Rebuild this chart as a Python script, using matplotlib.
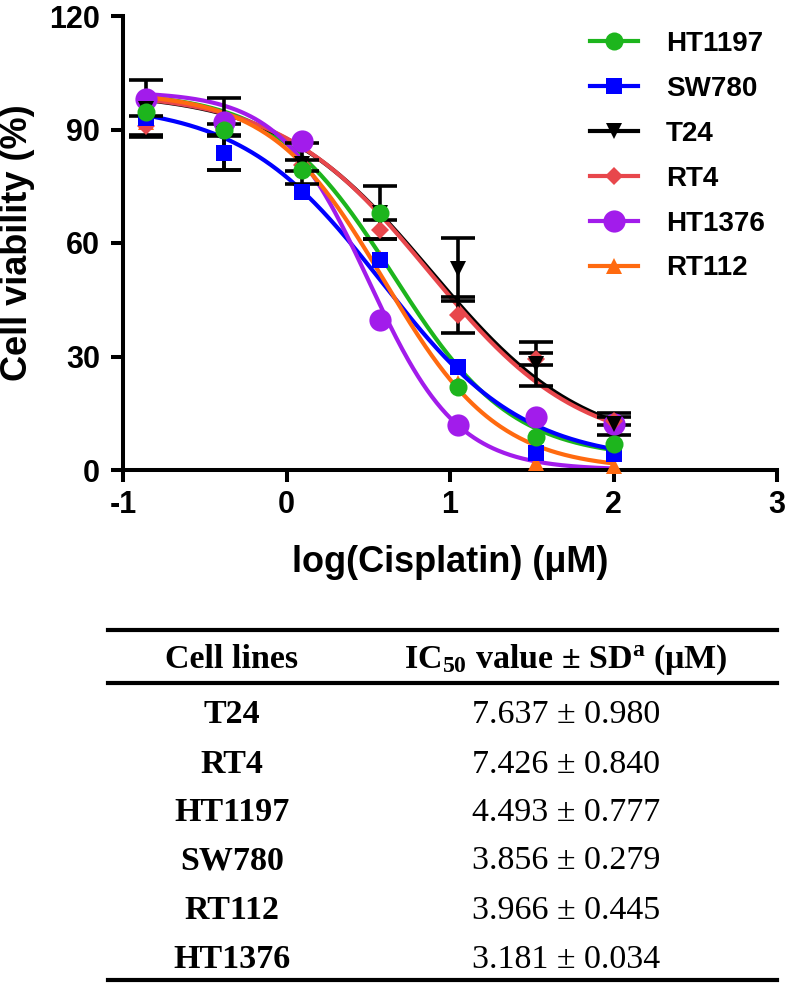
import numpy as np
import matplotlib
matplotlib.use("Agg")
import matplotlib.pyplot as plt
from matplotlib.lines import Line2D

# ---------------- data ----------------
log_conc = [-0.862, -0.385, 0.092, 0.569, 1.046, 1.523, 2.0]

series_names = ["HT1197", "SW780", "T24", "RT4", "HT1376", "RT112"]

viab_HT1197 = [94.7, 90.0, 79.3, 68.0, 21.9, 8.6, 7.0]
viab_SW780 = [93.0, 83.8, 73.6, 55.5, 27.3, 4.4, 4.2]
viab_T24 = [95.5, 88.7, 81.0, 68.0, 53.0, 28.0, 12.2]
viab_RT4 = [91.0, 90.0, 80.5, 63.5, 41.0, 29.3, 13.0]
viab_HT1376 = [98.0, 92.0, 87.0, 39.6, 11.9, 14.1, 12.2]
viab_RT112 = [92.0, 91.0, 81.0, 56.0, 23.0, 1.8, 1.0]

sd_HT1197 = [0, 0, 0, 0, 0, 0, 0]
sd_SW780 = [0, 4.5, 0, 0, 0, 0, 0]
sd_T24 = [7.5, 9.5, 5.5, 7.0, 8.2, 5.8, 2.9]
sd_RT4 = [2.5, 1.5, 1.5, 2.5, 4.8, 1.5, 1.0]
sd_HT1376 = [0, 0, 0, 0, 0, 0, 0]
sd_RT112 = [0, 0, 0, 0, 0, 0, 0]

# 4PL fit parameters (top, bottom, hill); logIC50 from the table values
fit_top = [100, 97, 100, 100, 100, 100]
fit_bottom = [3, 2, 5, 5, 0, 0]
fit_hill = [1.2, 1.0, 0.93, 0.95, 1.6, 1.25]

# table
table_lines = ["T24", "RT4", "HT1197", "SW780", "RT112", "HT1376"]
table_ic50 = [7.637, 7.426, 4.493, 3.856, 3.966, 3.181]
table_sd = [0.980, 0.840, 0.777, 0.279, 0.445, 0.034]

x_ticks = [-1, 0, 1, 2, 3]
y_ticks = [0, 30, 60, 90, 120]

# ---------------- style ----------------
colors = ["#1DB51D", "#0000FF", "#000000", "#E8474C", "#A21CEB", "#FF6A10"]
markers = ["o", "s", "v", "D", "o", "^"]
msizes = [13, 12, 12, 9, 16, 12]

plt.rcParams["font.family"] = ["Liberation Sans", "DejaVu Sans"]
plt.rcParams["mathtext.fontset"] = "custom"
plt.rcParams["mathtext.rm"] = "Liberation Serif"
plt.rcParams["mathtext.bf"] = "Liberation Serif:bold"
plt.rcParams["mathtext.it"] = "Liberation Serif:italic"

W, H = 789, 984
fig = plt.figure(figsize=(W / 100, H / 100), dpi=100)
ax = fig.add_axes([123 / W, 1 - 470 / H, 654 / W, 454 / H])

viabs = [viab_HT1197, viab_SW780, viab_T24, viab_RT4, viab_HT1376, viab_RT112]
sds = [sd_HT1197, sd_SW780, sd_T24, sd_RT4, sd_HT1376, sd_RT112]
log_ic50 = {n: np.log10(v) for n, v in zip(table_lines, table_ic50)}

xfit = np.linspace(log_conc[0], log_conc[-1], 300)
draw_order = [5, 4, 3, 2, 1, 0]
for i in draw_order:
    name = series_names[i]
    top, bot, h = fit_top[i], fit_bottom[i], fit_hill[i]
    yfit = bot + (top - bot) / (1 + 10 ** (h * (xfit - log_ic50[name])))
    ax.plot(xfit, yfit, color=colors[i], lw=3, zorder=1 + i * 0.01,
            solid_capstyle="round")
for i in draw_order:
    keep = [k for k, s in enumerate(sds[i]) if s > 0]
    if not keep:
        continue
    ax.errorbar([log_conc[k] for k in keep], [viabs[i][k] for k in keep],
                yerr=[sds[i][k] for k in keep], fmt="none", ecolor="black",
                elinewidth=2.6, capsize=12, capthick=2.6, zorder=2, clip_on=False)
for i in draw_order:
    ax.plot(log_conc, viabs[i], linestyle="none", marker=markers[i], ms=msizes[i],
            color=colors[i], markeredgewidth=0, zorder=3 + (5 - i) * 0.01,
            clip_on=False)

handles = [Line2D([0], [0], color=colors[i], lw=3, marker=markers[i],
                  ms=msizes[i], markeredgewidth=0) for i in range(6)]

ax.set_xlim(-1, 3)
ax.set_ylim(0, 120)
ax.set_xticks(x_ticks)
ax.set_yticks(y_ticks)
ax.set_xticklabels([str(t) for t in x_ticks])
ax.set_yticklabels([str(t) for t in y_ticks])
for s in ["top", "right"]:
    ax.spines[s].set_visible(False)
for s in ["left", "bottom"]:
    ax.spines[s].set_linewidth(2.9)
ax.tick_params(axis="both", direction="out", length=8.6, width=2.9, labelsize=22)
ax.tick_params(axis="y", pad=8)
ax.tick_params(axis="x", pad=6)
for lab in ax.get_xticklabels() + ax.get_yticklabels():
    lab.set_fontweight("bold")

ax.set_ylabel("Cell viability (%)", fontsize=26, fontweight="bold")
ax.yaxis.set_label_coords(-0.135, 0.5)
ax.set_xlabel("log(Cisplatin) (μM)", fontsize=26, fontweight="bold")
ax.xaxis.set_label_coords(0.5, -0.166)

leg = ax.legend(handles, series_names, loc="upper left",
                bbox_to_anchor=(590 / W, 1 - 31 / H), bbox_transform=fig.transFigure,
                frameon=False, fontsize=20, handlelength=1.73, handletextpad=1.0,
                labelspacing=0.68, borderpad=0, borderaxespad=0)
for t in leg.get_texts():
    t.set_fontweight("bold")

# ---------------- table ----------------
def fy(py):
    return 1 - py / H

xl, xr = 108 / W, 777 / W
for py in [630, 683, 980]:
    fig.add_artist(Line2D([xl, xr], [fy(py), fy(py)], transform=fig.transFigure,
                          color="black", lw=3))

serif = ["Liberation Serif", "DejaVu Serif"]
col1, col2 = 232 / W, 566 / W
fig.text(col1, fy(668), "Cell lines", ha="center", va="baseline", fontsize=24.5,
         fontweight="bold", family=serif)
fig.text(col2, fy(668), r"IC$_{\mathbf{50}}$ value ± SD$^{\mathbf{a}}$ (μM)",
         ha="center", va="baseline", fontsize=24.5, fontweight="bold", family=serif)

row_baselines = [723, 773, 821, 869, 919, 968]
for name, v, sd, by in zip(table_lines, table_ic50, table_sd, row_baselines):
    fig.text(col1, fy(by), name, ha="center", va="baseline", fontsize=24.5,
             fontweight="bold", family=serif)
    fig.text(col2, fy(by), f"{v:.3f} ± {sd:.3f}", ha="center", va="baseline",
             fontsize=24.5, family=serif)

fig.savefig("out.png", dpi=100)
